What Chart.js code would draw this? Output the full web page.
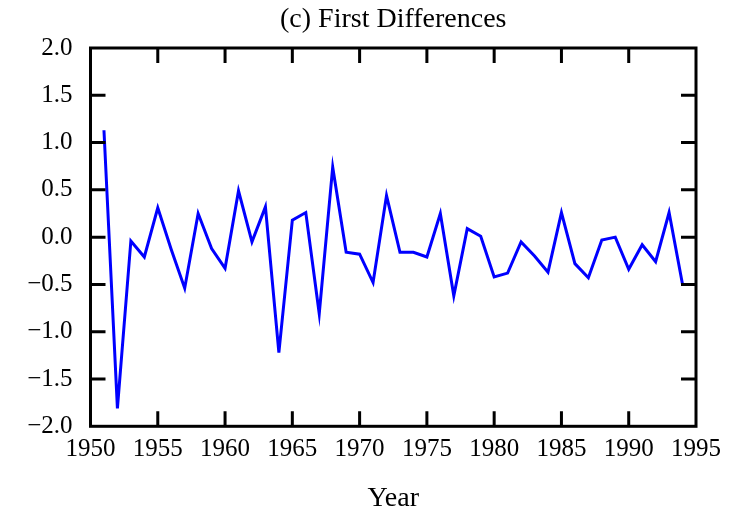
<!DOCTYPE html>
<html>
<head>
<meta charset="utf-8">
<script src="https://cdn.jsdelivr.net/npm/chart.js@4/dist/chart.umd.min.js"></script>
<style>
  html, body { margin: 0; padding: 0; background: #ffffff; }
  #wrap { width: 740px; height: 515px; }
</style>
</head>
<body>
<div id="wrap"><canvas id="c" width="740" height="515"></canvas></div>
<script>
// Year-over-year first differences, 1951-1994
const years = [
  1951, 1952, 1953, 1954, 1955, 1956, 1957, 1958, 1959, 1960,
  1961, 1962, 1963, 1964, 1965, 1966, 1967, 1968, 1969, 1970,
  1971, 1972, 1973, 1974, 1975, 1976, 1977, 1978, 1979, 1980,
  1981, 1982, 1983, 1984, 1985, 1986, 1987, 1988, 1989, 1990,
  1991, 1992, 1993, 1994
];
const firstDiffs = [
   1.13, -1.81, -0.04, -0.21,  0.31, -0.13, -0.54,  0.25, -0.12, -0.33,
   0.49, -0.05,  0.32, -1.22,  0.18,  0.26, -0.81,  0.74, -0.16, -0.18,
  -0.48,  0.44, -0.16, -0.16, -0.21,  0.25, -0.62,  0.09,  0.01, -0.42,
  -0.38, -0.05, -0.20, -0.37,  0.26, -0.28, -0.43, -0.03,  0.00, -0.34,
  -0.08, -0.26,  0.26, -0.50
];
const xTickValues = [1950, 1955, 1960, 1965, 1970, 1975, 1980, 1985, 1990, 1995];
const yTickValues = [-2.0, -1.5, -1.0, -0.5, 0.0, 0.5, 1.0, 1.5, 2.0];

const titleText = '(c) First Differences';
const xAxisTitle = 'Year';

const FONT = "'Liberation Serif', 'Times New Roman', serif";

const points = years.map((yr, i) => ({ x: yr, y: firstDiffs[i] }));

// Framed plot box with inward tick marks on all four sides,
// plus the panel title centred over the plot box
const frameTicks = {
  id: 'frameTicks',
  afterDraw(chart) {
    const { ctx, chartArea: a, scales } = chart;
    const len = 15;
    ctx.save();
    ctx.strokeStyle = '#000000';
    ctx.lineWidth = 3;
    ctx.lineCap = 'butt';
    ctx.beginPath();
    xTickValues.forEach(v => {
      const px = scales.x.getPixelForValue(v);
      if (Math.abs(px - a.left) < 2 || Math.abs(px - a.right) < 2) return;
      ctx.moveTo(px, a.bottom); ctx.lineTo(px, a.bottom - len);
      ctx.moveTo(px, a.top);    ctx.lineTo(px, a.top + len);
    });
    yTickValues.forEach(v => {
      const py = scales.y.getPixelForValue(v);
      if (Math.abs(py - a.top) < 2 || Math.abs(py - a.bottom) < 2) return;
      ctx.moveTo(a.left, py);  ctx.lineTo(a.left + len, py);
      ctx.moveTo(a.right, py); ctx.lineTo(a.right - len, py);
    });
    ctx.stroke();
    ctx.lineJoin = 'miter';
    ctx.strokeRect(a.left, a.top, a.right - a.left, a.bottom - a.top);

    ctx.fillStyle = '#000000';
    ctx.font = '28px ' + FONT;
    ctx.textAlign = 'center';
    ctx.textBaseline = 'middle';
    ctx.fillText(titleText, (a.left + a.right) / 2, 20);
    ctx.restore();
  }
};

const fmtY = v => {
  const s = Math.abs(v).toFixed(1);
  return v < -1e-9 ? '\u2212' + s : s;
};

new Chart(document.getElementById('c'), {
  type: 'line',
  data: {
    datasets: [{
      data: points,
      borderColor: '#0000ff',
      borderWidth: 3,
      pointRadius: 0,
      tension: 0,
      fill: false,
      borderJoinStyle: 'miter'
    }]
  },
  options: {
    responsive: false,
    devicePixelRatio: 1,
    animation: false,
    layout: { padding: { left: 0, right: 44, top: 48, bottom: 0 } },
    plugins: {
      legend: { display: false },
      tooltip: { enabled: false },
      title: { display: false }
    },
    scales: {
      x: {
        type: 'linear',
        min: 1950,
        max: 1995,
        afterBuildTicks: s => { s.ticks = xTickValues.map(v => ({ value: v })); },
        afterFit: s => { s.height = 88.7; },
        grid: { display: false, drawTicks: false },
        border: { display: false },
        ticks: {
          color: '#000000',
          padding: 8.5,
          maxRotation: 0,
          autoSkip: false,
          font: { family: FONT, size: 25 },
          callback: v => String(v)
        },
        title: {
          display: true,
          text: xAxisTitle,
          color: '#000000',
          font: { family: FONT, size: 28, lineHeight: 1.2 },
          padding: { top: 0, bottom: 0 }
        }
      },
      y: {
        min: -2,
        max: 2,
        afterBuildTicks: s => { s.ticks = yTickValues.map(v => ({ value: v })); },
        afterFit: s => { s.width = 90.5; },
        grid: { display: false, drawTicks: false },
        border: { display: false },
        ticks: {
          color: '#000000',
          padding: 18,
          autoSkip: false,
          font: { family: FONT, size: 25 },
          callback: v => fmtY(v)
        }
      }
    }
  },
  plugins: [frameTicks]
});
</script>
</body>
</html>
